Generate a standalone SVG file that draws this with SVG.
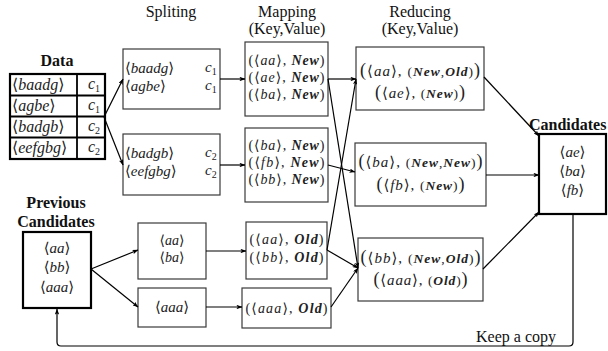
<svg xmlns="http://www.w3.org/2000/svg" width="608" height="351" viewBox="0 0 608 351">
  <style>
    .box { fill: #fff; stroke: #3a3a3a; stroke-width: 1.2; }
    .thick { fill: #fff; stroke: #000; stroke-width: 2.2; }
    .grid { stroke: #000; stroke-width: 1.8; }
    .hdr { font-family: "Liberation Serif", "DejaVu Serif", serif; font-size: 16px; fill: #111; text-anchor: middle; }
    .bold { font-weight: bold; }
    .t { font-family: "Liberation Serif", "DejaVu Serif", serif; font-size: 15px; fill: #222; }
    .tb { font-size: 16px; }
    .mp { font-size: 14px; }
    .c { text-anchor: middle; }
    .i { font-style: italic; }
    .kw { font-style: italic; font-weight: bold; }
    .sm { font-size: 13.5px; }
    .bp { font-size: 18px; }
    .sub { font-size: 10px; font-style: normal; }
    .conn { stroke: #000; stroke-width: 1.2; fill: none; marker-end: url(#ah); }
  </style>
  <defs>
    <marker id="ah" viewBox="0 0 8 6" refX="7.5" refY="3" markerWidth="6" markerHeight="4.5" markerUnits="userSpaceOnUse" orient="auto">
      <path d="M0,0 L8,3 L0,6 L2,3 Z" fill="#000"/>
    </marker>
  </defs>

  <rect width="608" height="351" fill="#fff"/>

  <!-- column headers -->
  <g id="headers">
    <text class="hdr" x="171" y="17">Spliting</text>
    <text class="hdr" x="287" y="17">Mapping</text>
    <text class="hdr" x="287" y="34">(Key,Value)</text>
    <text class="hdr" x="420" y="17">Reducing</text>
    <text class="hdr" x="420" y="34">(Key,Value)</text>
  </g>

  <!-- input data table -->
  <g id="data">
    <text class="hdr bold" x="57" y="66">Data</text>
    <rect class="thick" x="10" y="74" width="95" height="85"/>
    <line class="grid" x1="77" y1="74" x2="77" y2="159"/>
    <line class="grid" x1="10" y1="95.5" x2="105" y2="95.5"/>
    <line class="grid" x1="10" y1="116.5" x2="105" y2="116.5"/>
    <line class="grid" x1="10" y1="137.5" x2="105" y2="137.5"/>
    <text class="t tb" x="12" y="90">⟨<tspan class="i">baadg</tspan>⟩</text>
    <text class="t tb" x="12" y="111">⟨<tspan class="i">agbe</tspan>⟩</text>
    <text class="t tb" x="12" y="132">⟨<tspan class="i">badgb</tspan>⟩</text>
    <text class="t tb" x="12" y="153">⟨<tspan class="i">eefgbg</tspan>⟩</text>
    <text class="t tb i" x="88" y="89">c<tspan class="sub" dy="3">1</tspan></text>
    <text class="t tb i" x="88" y="110">c<tspan class="sub" dy="3">1</tspan></text>
    <text class="t tb i" x="88" y="131">c<tspan class="sub" dy="3">2</tspan></text>
    <text class="t tb i" x="88" y="152">c<tspan class="sub" dy="3">2</tspan></text>
  </g>

  <!-- splitting stage -->
  <g id="split1">
    <rect class="box" x="123" y="49" width="97" height="60"/>
    <text class="t" x="125" y="73">⟨<tspan class="i">baadg</tspan>⟩</text>
    <text class="t" x="125" y="91">⟨<tspan class="i">agbe</tspan>⟩</text>
    <text class="t i" x="205" y="72">c<tspan class="sub" dy="3">1</tspan></text>
    <text class="t i" x="205" y="90">c<tspan class="sub" dy="3">1</tspan></text>
  </g>
  <g id="split2">
    <rect class="box" x="123" y="134" width="97" height="61"/>
    <text class="t" x="125" y="158">⟨<tspan class="i">badgb</tspan>⟩</text>
    <text class="t" x="125" y="176">⟨<tspan class="i">eefgbg</tspan>⟩</text>
    <text class="t i" x="205" y="157">c<tspan class="sub" dy="3">2</tspan></text>
    <text class="t i" x="205" y="175">c<tspan class="sub" dy="3">2</tspan></text>
  </g>

  <!-- previous candidates -->
  <g id="prev">
    <text class="hdr bold" x="56" y="208">Previous</text>
    <text class="hdr bold" x="56" y="227">Candidates</text>
    <rect class="thick" x="23" y="232" width="68" height="76"/>
    <text class="t c" x="57" y="253">⟨<tspan class="i">aa</tspan>⟩</text>
    <text class="t c" x="57" y="272">⟨<tspan class="i">bb</tspan>⟩</text>
    <text class="t c" x="57" y="292">⟨<tspan class="i">aaa</tspan>⟩</text>
  </g>
  <g id="split3">
    <rect class="box" x="138" y="223" width="68" height="56"/>
    <text class="t mp c" x="172" y="245">⟨<tspan class="i">aa</tspan>⟩</text>
    <text class="t mp c" x="172" y="262">⟨<tspan class="i">ba</tspan>⟩</text>
  </g>
  <g id="split4">
    <rect class="box" x="138" y="288" width="68" height="39"/>
    <text class="t c" x="172" y="312">⟨<tspan class="i">aaa</tspan>⟩</text>
  </g>

  <!-- mapping stage -->
  <g id="map1">
    <rect class="box" x="245" y="42" width="83" height="74"/>
    <text class="t mp c" x="286.5" y="65" textLength="76" lengthAdjust="spacing">(⟨<tspan class="i">aa</tspan>⟩, <tspan class="kw">New</tspan>)</text>
    <text class="t mp c" x="286.5" y="82" textLength="76" lengthAdjust="spacing">(⟨<tspan class="i">ae</tspan>⟩, <tspan class="kw">New</tspan>)</text>
    <text class="t mp c" x="286.5" y="99" textLength="76" lengthAdjust="spacing">(⟨<tspan class="i">ba</tspan>⟩, <tspan class="kw">New</tspan>)</text>
  </g>
  <g id="map2">
    <rect class="box" x="245" y="128" width="83" height="74"/>
    <text class="t mp c" x="286.5" y="150" textLength="76" lengthAdjust="spacing">(⟨<tspan class="i">ba</tspan>⟩, <tspan class="kw">New</tspan>)</text>
    <text class="t mp c" x="286.5" y="167" textLength="76" lengthAdjust="spacing">(⟨<tspan class="i">fb</tspan>⟩, <tspan class="kw">New</tspan>)</text>
    <text class="t mp c" x="286.5" y="184" textLength="76" lengthAdjust="spacing">(⟨<tspan class="i">bb</tspan>⟩, <tspan class="kw">New</tspan>)</text>
  </g>
  <g id="map3">
    <rect class="box" x="246" y="222" width="81" height="57"/>
    <text class="t mp c" x="286.5" y="244" textLength="74" lengthAdjust="spacing">(⟨<tspan class="i">aa</tspan>⟩, <tspan class="kw">Old</tspan>)</text>
    <text class="t mp c" x="286.5" y="262" textLength="74" lengthAdjust="spacing">(⟨<tspan class="i">bb</tspan>⟩, <tspan class="kw">Old</tspan>)</text>
  </g>
  <g id="map4">
    <rect class="box" x="242" y="288" width="89" height="40"/>
    <text class="t mp c" x="286.5" y="313" textLength="82" lengthAdjust="spacing">(⟨<tspan class="i">aaa</tspan>⟩, <tspan class="kw">Old</tspan>)</text>
  </g>

  <!-- reducing stage -->
  <g id="red1">
    <rect class="box" x="356" y="47" width="128" height="63"/>
    <text class="t c" x="420" y="76" textLength="120" lengthAdjust="spacing"><tspan class="bp">(</tspan>⟨<tspan class="i">aa</tspan>⟩, <tspan class="sm">(<tspan class="kw">New</tspan>,<tspan class="kw">Old</tspan>)</tspan><tspan class="bp">)</tspan></text>
    <text class="t c" x="420" y="98" textLength="90" lengthAdjust="spacing"><tspan class="bp">(</tspan>⟨<tspan class="i">ae</tspan>⟩, <tspan class="sm">(<tspan class="kw">New</tspan>)</tspan><tspan class="bp">)</tspan></text>
  </g>
  <g id="red2">
    <rect class="box" x="355" y="143" width="131" height="63"/>
    <text class="t c" x="420.5" y="167" textLength="124" lengthAdjust="spacing"><tspan class="bp">(</tspan>⟨<tspan class="i">ba</tspan>⟩, <tspan class="sm">(<tspan class="kw">New</tspan>,<tspan class="kw">New</tspan>)</tspan><tspan class="bp">)</tspan></text>
    <text class="t c" x="420.5" y="190" textLength="88" lengthAdjust="spacing"><tspan class="bp">(</tspan>⟨<tspan class="i">fb</tspan>⟩, <tspan class="sm">(<tspan class="kw">New</tspan>)</tspan><tspan class="bp">)</tspan></text>
  </g>
  <g id="red3">
    <rect class="box" x="358" y="238" width="125" height="63"/>
    <text class="t c" x="420.5" y="263" textLength="120" lengthAdjust="spacing"><tspan class="bp">(</tspan>⟨<tspan class="i">bb</tspan>⟩, <tspan class="sm">(<tspan class="kw">New</tspan>,<tspan class="kw">Old</tspan>)</tspan><tspan class="bp">)</tspan></text>
    <text class="t c" x="420.5" y="285" textLength="94" lengthAdjust="spacing"><tspan class="bp">(</tspan>⟨<tspan class="i">aaa</tspan>⟩, <tspan class="sm">(<tspan class="kw">Old</tspan>)</tspan><tspan class="bp">)</tspan></text>
  </g>

  <!-- resulting candidates -->
  <g id="cand">
    <text class="hdr bold" x="529" y="130" style="text-anchor:start">Candidates</text>
    <rect class="thick" x="539" y="134" width="67" height="80"/>
    <text class="t c" x="572.5" y="157">⟨<tspan class="i">ae</tspan>⟩</text>
    <text class="t c" x="572.5" y="176">⟨<tspan class="i">ba</tspan>⟩</text>
    <text class="t c" x="572.5" y="195">⟨<tspan class="i">fb</tspan>⟩</text>
  </g>

  <!-- connectors -->
  <g id="connectors">
    <line class="conn" x1="104" y1="117" x2="123" y2="79"/>
    <line class="conn" x1="104" y1="117" x2="123" y2="165"/>
    <line class="conn" x1="220" y1="79" x2="245" y2="79"/>
    <line class="conn" x1="220" y1="165" x2="245" y2="165"/>
    <line class="conn" x1="91" y1="269" x2="138" y2="250"/>
    <line class="conn" x1="91" y1="269" x2="138" y2="307"/>
    <line class="conn" x1="206" y1="251" x2="246" y2="251"/>
    <line class="conn" x1="206" y1="307" x2="242" y2="307"/>
    <line class="conn" x1="328" y1="79" x2="356" y2="79"/>
    <line class="conn" x1="328" y1="79" x2="358" y2="268"/>
    <line class="conn" x1="328" y1="165" x2="355" y2="172"/>
    <line class="conn" x1="327" y1="250" x2="356" y2="79"/>
    <line class="conn" x1="327" y1="250" x2="358" y2="268"/>
    <line class="conn" x1="331" y1="307" x2="358" y2="268"/>
    <line class="conn" x1="484" y1="77" x2="539" y2="136"/>
    <line class="conn" x1="486" y1="175" x2="539" y2="175"/>
    <line class="conn" x1="483" y1="269" x2="539" y2="212"/>
    <path class="conn" d="M573,214 V342 Q573,346 569,346 H61 Q57,346 57,342 V309"/>
    <text class="hdr" x="516" y="342">Keep a copy</text>
  </g>
</svg>
